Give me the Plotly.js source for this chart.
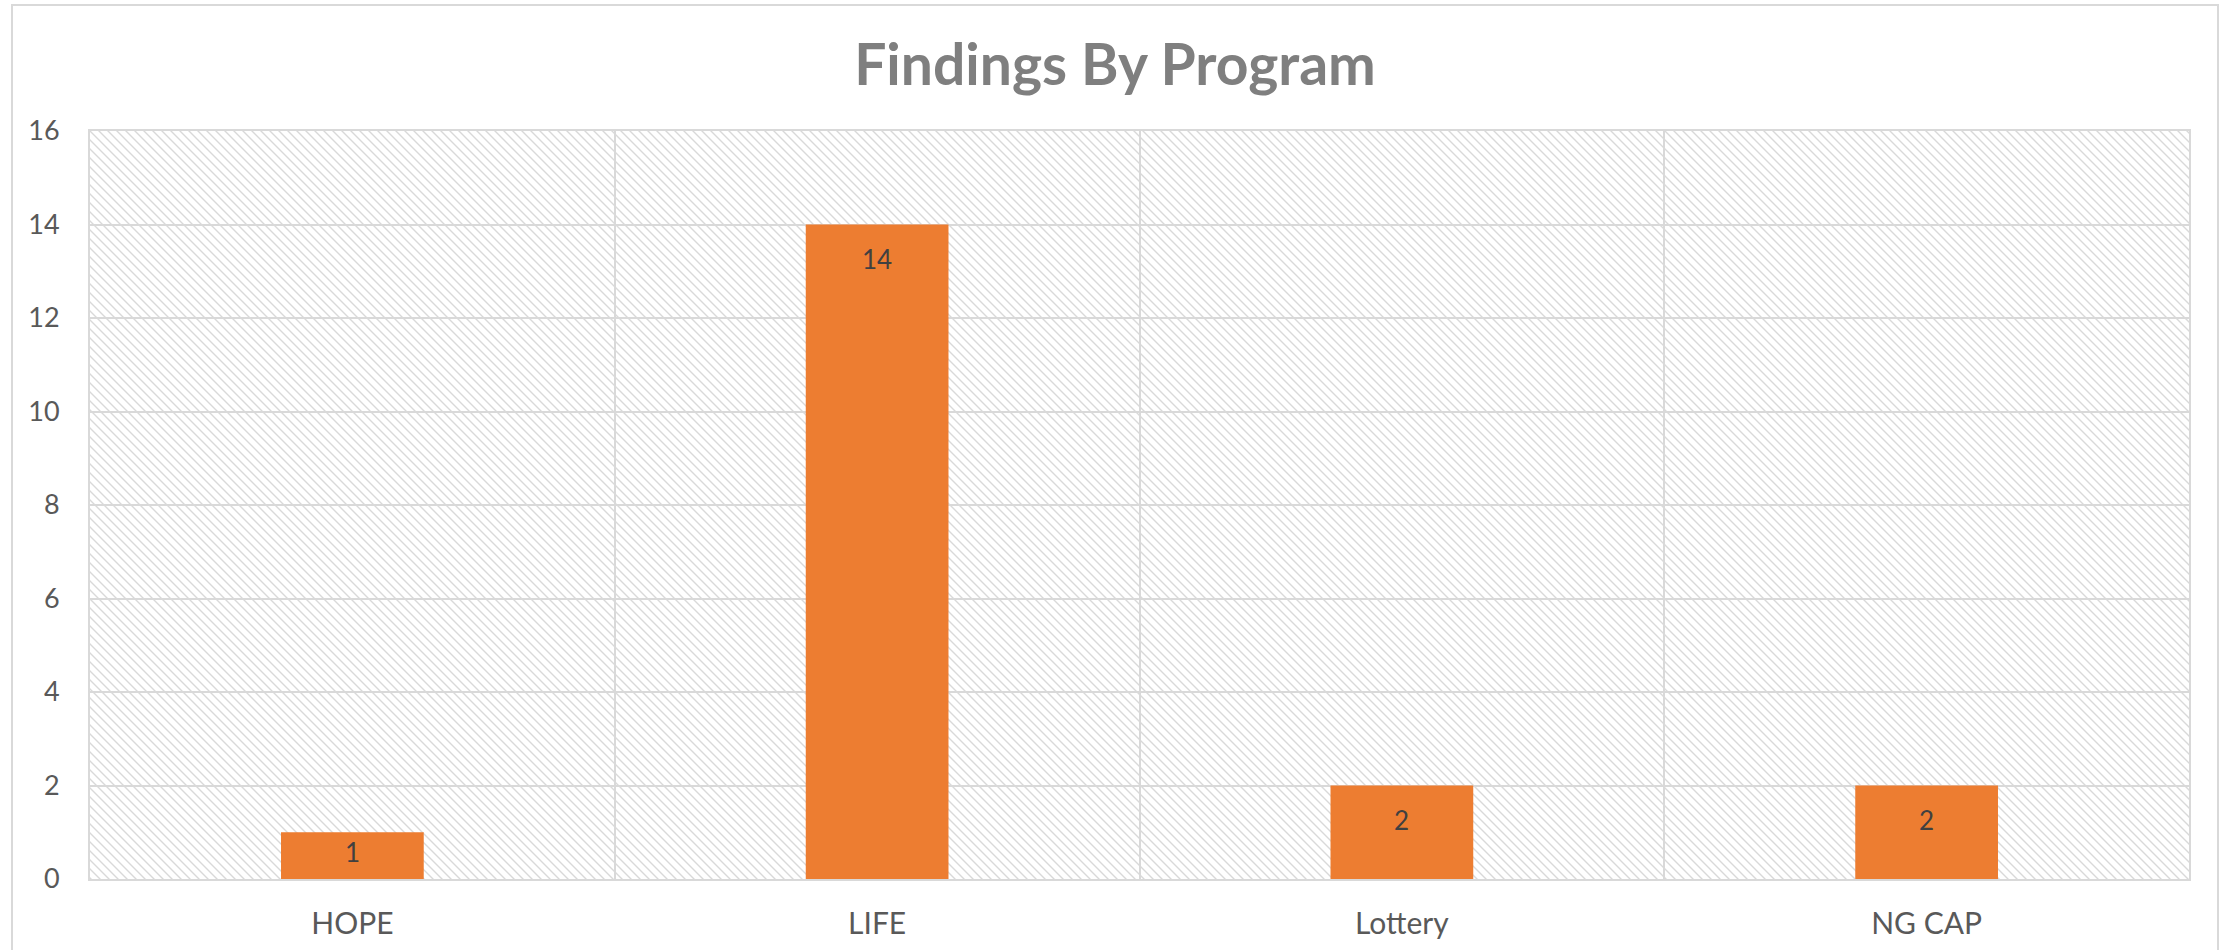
<!DOCTYPE html>
<html>
<head>
<meta charset="utf-8">
<script src="https://cdn.plot.ly/plotly-3.0.1.min.js"></script>
<style>
  html, body { margin: 0; padding: 0; background: #ffffff; }
  #chart { width: 2231px; height: 950px; }
</style>
</head>
<body>
<div id="chart"></div>
<script>
const programs = ["HOPE", "LIFE", "Lottery", "NG CAP"];
const findings = [1, 14, 2, 2];
const yTicks = [0, 2, 4, 6, 8, 10, 12, 14, 16];
const chartTitle = "Findings By Program";

const W = 2231, H = 950;
const M = { l: 90, r: 42, t: 131, b: 71 };
const PW = W - M.l - M.r, PH = H - M.t - M.b;

// hatch background for the plot area
const svg = '<svg xmlns="http://www.w3.org/2000/svg" width="' + PW + '" height="' + PH + '">' +
  '<defs><pattern id="p" width="9" height="9" patternUnits="userSpaceOnUse">' +
  '<path d="M-2,-2 L11,11 M-2,7 L2,11 M7,-2 L11,2" stroke="#d9d9d9" stroke-width="1.4" fill="none"/>' +
  '</pattern></defs><rect width="' + PW + '" height="' + PH + '" fill="url(#p)"/></svg>';
const hatchURI = 'data:image/svg+xml;base64,' + btoa(svg);

const pxPerUnit = PH / 16;
const annotations = programs.map((p, i) => ({
  x: p, y: findings[i], xref: 'x', yref: 'y',
  text: String(findings[i]), showarrow: false,
  yanchor: 'middle', xanchor: 'center',
  yshift: -Math.min(34, findings[i] * pxPerUnit * 0.42),
  font: { family: 'Lato, "Open Sans", sans-serif', size: 26, color: '#404040' }
}));

const trace = {
  type: 'bar',
  x: programs,
  y: findings,
  marker: { color: '#ED7D31', line: { width: 0 } },
  hoverinfo: 'x+y'
};

const layout = {
  width: W, height: H,
  margin: M,
  paper_bgcolor: '#ffffff',
  plot_bgcolor: 'rgba(0,0,0,0)',
  showlegend: false,
  bargap: 0.728,
  title: {
    text: '<b>' + chartTitle + '</b>',
    x: 1115 / W, xref: 'container', xanchor: 'center',
    y: 1 - 65 / H, yref: 'container', yanchor: 'middle',
    font: { family: 'Lato, "Open Sans", sans-serif', size: 57, color: '#7f7f7f' }
  },
  xaxis: {
    type: 'category',
    tickson: 'boundaries',
    showgrid: true, gridcolor: '#d9d9d9', gridwidth: 2,
    showline: true, mirror: true, linecolor: '#d9d9d9', linewidth: 2,
    ticks: '', ticklabelstandoff: 17,
    tickfont: { family: 'Lato, "Open Sans", sans-serif', size: 30, color: '#595959' },
    fixedrange: true
  },
  yaxis: {
    range: [0, 16],
    tickvals: yTicks,
    ticktext: yTicks.map(String),
    showgrid: true, gridcolor: '#d9d9d9', gridwidth: 2,
    zeroline: false,
    showline: true, mirror: true, linecolor: '#d9d9d9', linewidth: 2,
    ticks: '', ticklabelstandoff: 23,
    tickfont: { family: 'Lato, "Open Sans", sans-serif', size: 27, color: '#595959' },
    fixedrange: true
  },
  images: [{
    source: hatchURI, xref: 'paper', yref: 'paper',
    x: 0, y: 1, sizex: 1, sizey: 1, xanchor: 'left', yanchor: 'top',
    sizing: 'stretch', layer: 'below'
  }],
  shapes: [{
    type: 'rect', xref: 'paper', yref: 'paper', layer: 'above',
    x0: (12 - M.l) / PW, x1: (2218 - M.l) / PW,
    y0: (PH + M.t - 965) / PH, y1: (PH + M.t - 5) / PH,
    line: { color: '#d9d9d9', width: 2 }, fillcolor: 'rgba(0,0,0,0)'
  }],
  annotations: annotations
};

Plotly.newPlot('chart', [trace], layout, { displayModeBar: false, staticPlot: true });
</script>
</body>
</html>
